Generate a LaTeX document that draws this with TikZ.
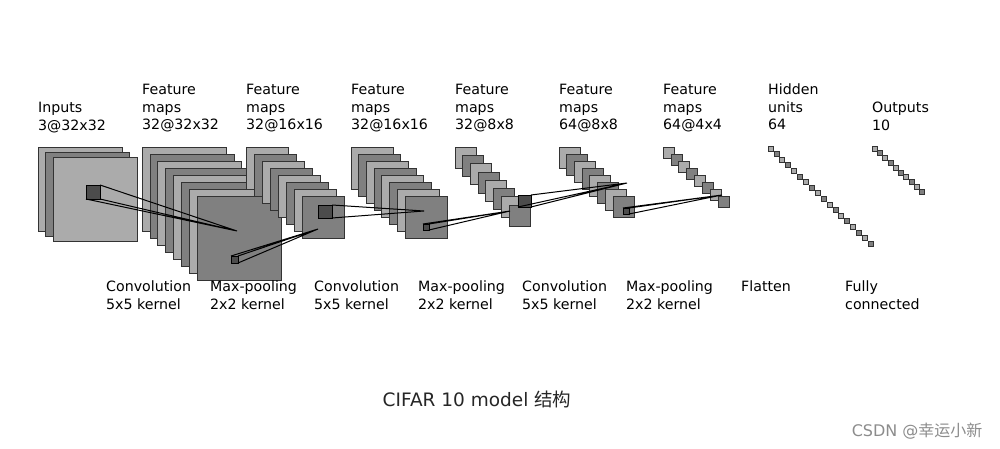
\documentclass[tikz,border=0pt]{standalone}
\usepackage{fontspec}
\setmainfont{DejaVu Sans}
\newfontfamily\cjk{Noto Sans CJK SC}
\begin{document}
\begin{tikzpicture}[x=1pt,y=-1pt,
  lbl/.style={anchor=north west,align=left,inner sep=0pt,font=\fontsize{14.2}{17.5}\selectfont},
  conn/.style={black,line width=1pt},
  patch/.style={draw=black,fill=black!70,line width=0.8pt}]
\useasboundingbox (0,0) rectangle (1000,449);
\newcommand{\mystack}[7]{%
  \foreach \i in {0,...,#3}{%
    \pgfmathsetmacro{\c}{mod(\i+#7,2)==0 ? 33 : 50}
    \filldraw[draw=black!80,line width=0.7pt,fill=black!\c]
      ({#1+\i*#4},{#2+\i*#5}) rectangle ++(#6,#6);}}
\mystack{38}{147}{2}{7.5}{5.3}{84}{0}
\mystack{142}{147}{7}{7.9}{7.1}{84}{0}
\mystack{246}{147}{7}{8}{7.1}{42}{0}
\mystack{351}{147}{7}{7.7}{7.1}{42}{0}
\mystack{455}{147}{7}{7.7}{8.3}{21}{0}
\mystack{559}{147}{7}{7.7}{7.1}{21}{0}
\mystack{663}{147}{7}{7.9}{7.1}{11}{0}
\mystack{768}{146}{17}{5.9}{5.6}{5}{0}
\mystack{872}{146}{9}{5.3}{4.8}{5}{0}
% kernels
\coordinate (t1) at (237,231);
\filldraw[patch] (86,185) rectangle (100,199);
\draw[conn] (100,185) -- (t1) (100,199) -- (t1) (86,199) -- (t1);
\coordinate (t2) at (318,229);
\filldraw[patch] (231,256) rectangle (238,263);
\draw[conn] (231,256) -- (t2) (238,263) -- (t2) (238,256) -- (t2);
\coordinate (t3) at (424,211);
\filldraw[patch] (318,205) rectangle (332,218);
\draw[conn] (332,205) -- (t3) (332,218) -- (t3);
\coordinate (t4) at (510,211);
\filldraw[patch] (423,224) rectangle (429,230);
\draw[conn] (423,224) -- (t4) (429,230) -- (t4) (429,224) -- (t4);
\coordinate (t5) at (627,183);
\filldraw[patch] (518,195) rectangle (531,207);
\draw[conn] (531,195) -- (t5) (531,207) -- (t5) (518,207) -- (t5);
\coordinate (t6) at (722,195);
\filldraw[patch] (623,208) rectangle (629,214);
\draw[conn] (623,208) -- (t6) (629,214) -- (t6) (629,208) -- (t6);
% labels
\node[lbl] (l0) at (38,102) {Inputs\\3@32x32};
\node[lbl] (l1) at (142,84) {Feature\\maps\\32@32x32};
\node[lbl] (l2) at (246,84) {Feature\\maps\\32@16x16};
\node[lbl] (l3) at (351,84) {Feature\\maps\\32@16x16};
\node[lbl] (l4) at (455,84) {Feature\\maps\\32@8x8};
\node[lbl] (l5) at (559,84) {Feature\\maps\\64@8x8};
\node[lbl] (l6) at (663,84) {Feature\\maps\\64@4x4};
\node[lbl] (l7) at (768,84) {Hidden\\units\\64};
\node[lbl] (l8) at (872,102) {Outputs\\10};
\node[lbl] (b1) at (106,281) {Convolution\\5x5 kernel};
\node[lbl] (b2) at (210,281) {Max-pooling\\2x2 kernel};
\node[lbl] (b3) at (314,281) {Convolution\\5x5 kernel};
\node[lbl] (b4) at (418,281) {Max-pooling\\2x2 kernel};
\node[lbl] (b5) at (522,281) {Convolution\\5x5 kernel};
\node[lbl] (b6) at (626,281) {Max-pooling\\2x2 kernel};
\node[lbl] (b7) at (741,281) {Flatten};
\node[lbl] (b8) at (845,281) {Fully\\connected};
\node[font=\fontsize{18.5}{22}\selectfont,text=black!85] (cap) at (477,399) {CIFAR 10 model {\cjk 结构}};
\node[font=\fontsize{16}{18}\selectfont,text=black!45,anchor=east] (wm) at (986,431) {CSDN @{\cjk 幸运小新}};
\end{tikzpicture}
\end{document}
